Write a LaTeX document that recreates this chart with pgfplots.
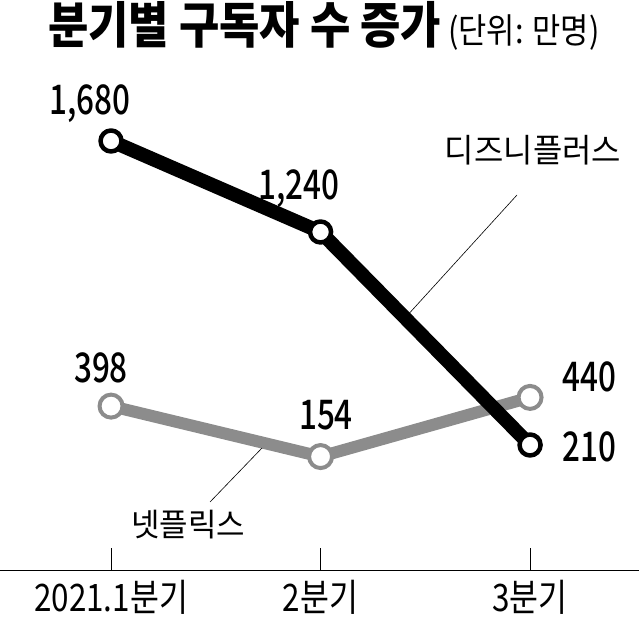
\documentclass[border=0pt]{standalone}
\usepackage{fontspec}
\setmainfont{Noto Sans CJK KR}
\newfontfamily\ttlfont{Noto Sans CJK KR}[FakeStretch=0.88]
\newfontfamily\numfont{Noto Sans CJK KR Medium}[FakeStretch=0.77]
\newfontfamily\tckfont{Noto Sans CJK KR}[FakeStretch=0.83]
\newfontfamily\lblfont{Noto Sans CJK KR}[FakeStretch=0.97]
\usepackage{pgfplots}
\pgfplotsset{compat=1.18}
\definecolor{nfgray}{RGB}{140,140,140}

\begin{document}
\begin{tikzpicture}[x=1bp,y=1bp]
\useasboundingbox (0,-47) rectangle (639,570);
\begin{axis}[
    at={(0,0)}, anchor=south west,
    scale only axis, width=639bp, height=570bp,
    xmin=-0.53, xmax=2.52, ymin=-394.5, ymax=2361.8,
    axis x line=bottom, axis y line=none,
    axis line style={-, line width=0.8bp},
    xtick={0,1,2}, xticklabels={2021.1분기,2분기,3분기},
    ytick=\empty,
    tick align=inside, major tick length=22bp,
    xtick style={line width=0.6bp, black},
    xticklabel style={font=\tckfont\fontsize{38}{38}\selectfont, anchor=base, yshift=-41bp},
    clip=false,
]
% 넷플릭스
\addplot[nfgray, line width=12bp, line join=round, mark=*, mark size=11.5bp,
    mark options={fill=white, draw=nfgray, line width=4bp}]
    coordinates {(0,398) (1,154) (2,440)};
% 디즈니플러스
\addplot[black, line width=14bp, line join=round, mark=*, mark size=10.5bp,
    mark options={fill=white, draw=black, line width=4.5bp}]
    coordinates {(0,1680) (1,1240) (2,210)};
\end{axis}

% labels
\begin{scope}[every node/.style={inner sep=0pt}]
\node[anchor=base] at (90,455) {\numfont\fontsize{41}{41}\selectfont 1,680};
\node[anchor=base] at (299,370) {\numfont\fontsize{41}{41}\selectfont 1,240};
\node[anchor=base] at (101,187) {\numfont\fontsize{41}{41}\selectfont 398};
\node[anchor=base] at (326,140) {\numfont\fontsize{41}{41}\selectfont 154};
\node[anchor=base west] at (562,178) {\numfont\fontsize{41}{41}\selectfont 440};
\node[anchor=base west] at (562,108) {\numfont\fontsize{41}{41}\selectfont 210};
\node[anchor=base] at (533,407) {\lblfont\fontsize{33}{33}\selectfont 디즈니플러스};
\node[anchor=base] at (188,33) {\lblfont\fontsize{32}{32}\selectfont 넷플릭스};
\draw[line width=0.6bp] (517,375) -- (405,252);
\draw[line width=0.6bp] (262,122) -- (210,68);
\node[anchor=base west] at (48,526) {\ttlfont\bfseries\fontsize{50}{50}\selectfont 분기별 구독자 수 증가};
\node[anchor=base west] at (448,526) {\ttlfont\fontsize{35}{35}\selectfont (단위: 만명)};
\end{scope}
\end{tikzpicture}
\end{document}
